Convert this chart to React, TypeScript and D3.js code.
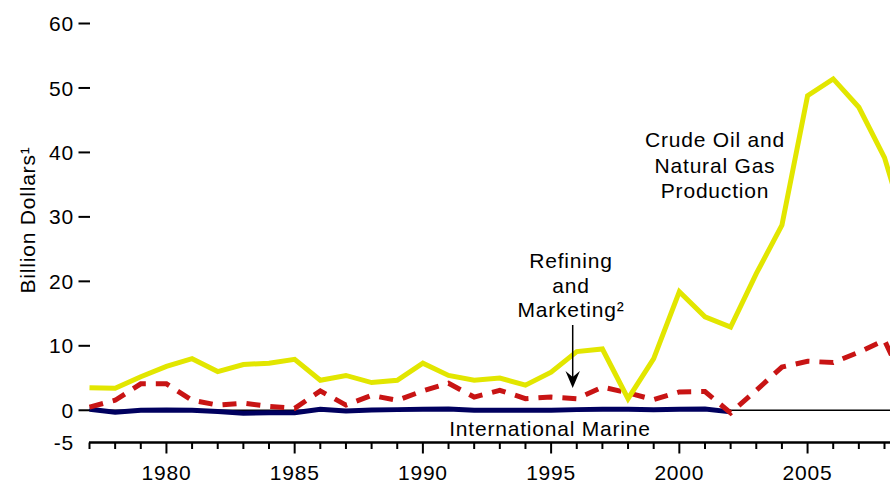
import * as d3 from 'd3';
import { useEffect, useRef } from 'react';

const WIDTH = 890;
const HEIGHT = 483;

// Years shown on the chart (the right edge cuts the last one off)
const years = [
    1977, 1978, 1979, 1980, 1981, 1982, 1983, 1984, 1985, 1986, 1987, 1988, 1989, 1990, 1991, 1992, 1993,
    1994, 1995, 1996, 1997, 1998, 1999, 2000, 2001, 2002, 2003, 2004, 2005, 2006, 2007, 2008, 2009,
];

const crudeOilGas = [
    3.5, 3.4, 5.2, 6.8, 8.0, 6.0, 7.1, 7.3, 7.9, 4.65, 5.4, 4.3, 4.65, 7.3, 5.4, 4.65, 5.0, 3.9, 5.9, 9.1, 9.5,
    1.8, 8.0, 18.4, 14.5, 12.9, 21.2, 28.7, 48.8, 51.4, 47.0, 39.2, 26,
];

const refiningMarketing = [
    0.5, 1.55, 4.1, 4.1, 1.55, 0.8, 1.1, 0.6, 0.3, 3.0, 0.8, 2.3, 1.55, 3.0, 4.2, 2.05, 3.1, 1.8, 2.05, 1.8,
    3.6, 2.7, 1.65, 2.85, 2.9, -0.4, 3.1, 6.7, 7.6, 7.4, 9.0, 10.85, 2.3,
];

// International Marine stops in 2002
const internationalMarine = [
    0.15, -0.3, 0, 0.05, 0, -0.2, -0.45, -0.4, -0.4, 0.15, -0.1, 0.05, 0.1, 0.15, 0.2, 0, 0, 0, 0, 0.1, 0.15,
    0.15, 0.1, 0.15, 0.2, -0.25,
];

const yTicks = [0, 10, 20, 30, 40, 50, 60];
const yLabels = [-5, 0, 10, 20, 30, 40, 50, 60];
const xMinorTicks = years.slice(0, 32);
const xMajorTicks = [1980, 1985, 1990, 1995, 2000, 2005];

const FONT = '"Liberation Sans", Arial, Helvetica, sans-serif';
const FS = 21;

type Pt = [number, number];

const App = () => {
    const svgRef = useRef<SVGSVGElement | null>(null);

    useEffect(() => {
        if (!svgRef.current) return;
        const svg = d3.select(svgRef.current);
        svg.selectAll('*').remove();

        const x = d3.scaleLinear().domain([1977, 2008]).range([89.5, 884.5]);
        const y = d3.scaleLinear().domain([-5, 60]).range([442.5, 23.5]);

        svg.append('rect').attr('width', WIDTH).attr('height', HEIGHT).attr('fill', '#ffffff');

        const root = svg
            .append('g')
            .style('font-family', FONT)
            .style('font-size', `${FS}px`)
            .style('letter-spacing', '0.8px');

        // Y ticks (short dashes, no axis line)
        root.append('g')
            .selectAll('line')
            .data(yTicks)
            .join('line')
            .attr('x1', 78.5)
            .attr('x2', 90)
            .attr('y1', (d) => y(d))
            .attr('y2', (d) => y(d))
            .attr('stroke', '#000')
            .attr('stroke-width', 2);

        root.append('g')
            .selectAll('text')
            .data(yLabels)
            .join('text')
            .attr('x', 74)
            .attr('y', (d) => y(d))
            .attr('dy', '0.36em')
            .attr('text-anchor', 'end')
            .attr('fill', '#000')
            .text((d) => d);

        // Y axis title
        root.append('text')
            .attr('transform', `translate(35, 220) rotate(-90)`)
            .attr('text-anchor', 'middle')
            .attr('fill', '#000')
            .text('Billion Dollars¹');

        // X axis
        const axisY = y(-5);
        root.append('line')
            .attr('x1', 89)
            .attr('x2', WIDTH)
            .attr('y1', axisY)
            .attr('y2', axisY)
            .attr('stroke', '#000')
            .attr('stroke-width', 2.5);

        root.append('g')
            .selectAll('line')
            .data(xMinorTicks)
            .join('line')
            .attr('x1', (d) => x(d))
            .attr('x2', (d) => x(d))
            .attr('y1', axisY)
            .attr('y2', (d) => axisY + (xMajorTicks.includes(d) ? 11 : 6.5))
            .attr('stroke', '#000')
            .attr('stroke-width', 2);

        root.append('g')
            .selectAll('text')
            .data(xMajorTicks)
            .join('text')
            .attr('x', (d) => x(d))
            .attr('y', 480)
            .attr('text-anchor', 'middle')
            .attr('fill', '#000')
            .text((d) => d);

        // Zero line
        root.append('line')
            .attr('x1', 89)
            .attr('x2', WIDTH)
            .attr('y1', y(0))
            .attr('y2', y(0))
            .attr('stroke', '#000')
            .attr('stroke-width', 1.5);

        const line = d3
            .line<Pt>()
            .x((d) => x(d[0]))
            .y((d) => y(d[1]));

        const series = (vals: number[]): Pt[] => vals.map((v, i) => [years[i], v]);

        root.append('path')
            .attr('d', line(series(internationalMarine)))
            .attr('fill', 'none')
            .attr('stroke', '#00005f')
            .attr('stroke-width', 5);

        root.append('path')
            .attr('d', line(series(refiningMarketing)))
            .attr('fill', 'none')
            .attr('stroke', '#c81414')
            .attr('stroke-width', 5)
            .attr('stroke-dasharray', '14,10');

        root.append('path')
            .attr('d', line(series(crudeOilGas)))
            .attr('fill', 'none')
            .attr('stroke', '#e2e600')
            .attr('stroke-width', 5);

        // Labels
        const crude = root.append('text').attr('text-anchor', 'middle').attr('fill', '#000');
        ['Crude Oil and', 'Natural Gas', 'Production'].forEach((t, i) => {
            crude.append('tspan').attr('x', 715).attr('y', 147 + i * 25.5).text(t);
        });

        const refining = root.append('text').attr('text-anchor', 'middle').attr('fill', '#000');
        ['Refining', 'and', 'Marketing²'].forEach((t, i) => {
            refining.append('tspan').attr('x', 571).attr('y', 268 + i * 24.5).text(t);
        });

        root.append('text')
            .attr('x', 550)
            .attr('y', 436)
            .attr('text-anchor', 'middle')
            .attr('fill', '#000')
            .text('International Marine');

        // Arrow for Refining and Marketing
        root.append('line')
            .attr('x1', 572.7)
            .attr('x2', 572.7)
            .attr('y1', 325)
            .attr('y2', 380)
            .attr('stroke', '#000')
            .attr('stroke-width', 1.5);
        root.append('path')
            .attr('d', 'M572.7,388 L565.5,371 L572.7,377 L579.9,371 Z')
            .attr('fill', '#000');
    }, []);

    return (
        <svg
            ref={svgRef}
            width={WIDTH}
            height={HEIGHT}
            style={{ position: 'absolute', left: 0, top: 0, display: 'block' }}
        ></svg>
    );
};

export default App;
